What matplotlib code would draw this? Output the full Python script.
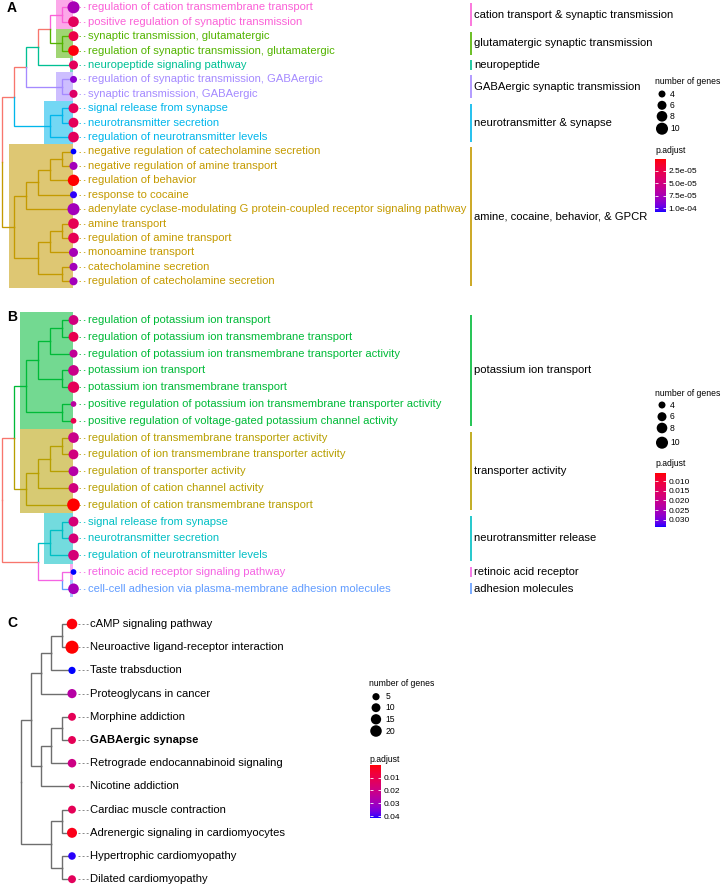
import numpy as np
import matplotlib
matplotlib.use("Agg")
import matplotlib.pyplot as plt
from matplotlib.cm import ScalarMappable
from matplotlib.colors import ListedColormap, Normalize
from matplotlib.patches import Rectangle

plt.rcParams["font.family"] = ["Liberation Sans", "DejaVu Sans"]

FIG_W, FIG_H = 722, 886

# ---------------- panel A: GO terms ----------------
A_TERMS = [
    "regulation of cation transmembrane transport",
    "positive regulation of synaptic transmission",
    "synaptic transmission, glutamatergic",
    "regulation of synaptic transmission, glutamatergic",
    "neuropeptide signaling pathway",
    "regulation of synaptic transmission, GABAergic",
    "synaptic transmission, GABAergic",
    "signal release from synapse",
    "neurotransmitter secretion",
    "regulation of neurotransmitter levels",
    "negative regulation of catecholamine secretion",
    "negative regulation of amine transport",
    "regulation of behavior",
    "response to cocaine",
    "adenylate cyclase-modulating G protein-coupled receptor signaling pathway",
    "amine transport",
    "regulation of amine transport",
    "monoamine transport",
    "catecholamine secretion",
    "regulation of catecholamine secretion",
]
A_GENES = [10, 8, 7, 8, 6, 4, 5, 7, 7, 8, 3, 5, 9, 4, 10, 8, 8, 6, 5, 5]
A_PADJ = [7.5e-5, 3.3e-5, 2.4e-5, 3.1e-6, 3.3e-5, 8.6e-5, 3.8e-5, 3.2e-5, 3.2e-5, 3.3e-5,
          1.0745e-4, 7.7e-5, 1.0e-6, 1.05e-4, 7.7e-5, 3.0e-5, 3.0e-5, 7.5e-5, 7.7e-5, 7.7e-5]
A_TREE = ((((((0, 1), (2, 3)), 4), (5, 6)), ((7, 8), 9)),
          (((((10, 11), 12), 13), 14), (((15, 16), 17), (18, 19))))
A_CLUSTER_NAMES = [
    "cation transport & synaptic transmission",
    "glutamatergic synaptic transmission",
    "neuropeptide",
    "GABAergic synaptic transmission",
    "neurotransmitter & synapse",
    "amine, cocaine, behavior, & GPCR",
]
A_CLUSTER_ROWS = [[0, 1], [2, 3], [4], [5, 6], [7, 8, 9], list(range(10, 20))]
A_CLUSTER_COLORS = ["#FB61D7", "#53B400", "#00C094", "#A58AFF", "#00B6EB", "#C49A00"]
A_EDGE_OVERRIDE = {(0, 1, 2, 3, 4): "#00C094"}
A_SIZE_BREAKS = [4, 6, 8, 10]
A_PADJ_TICKS = [2.5e-5, 5.0e-5, 7.5e-5, 1.0e-4]

# ---------------- panel B: GO terms ----------------
B_TERMS = [
    "regulation of potassium ion transport",
    "regulation of potassium ion transmembrane transport",
    "regulation of potassium ion transmembrane transporter activity",
    "potassium ion transport",
    "potassium ion transmembrane transport",
    "positive regulation of potassium ion transmembrane transporter activity",
    "positive regulation of voltage-gated potassium channel activity",
    "regulation of transmembrane transporter activity",
    "regulation of ion transmembrane transporter activity",
    "regulation of transporter activity",
    "regulation of cation channel activity",
    "regulation of cation transmembrane transport",
    "signal release from synapse",
    "neurotransmitter secretion",
    "regulation of neurotransmitter levels",
    "retinoic acid receptor signaling pathway",
    "cell-cell adhesion via plasma-membrane adhesion molecules",
]
B_GENES = [7, 7, 5, 8, 9, 3, 3, 8, 7, 7, 7, 11, 7, 7, 8, 3, 8]
B_PADJ = [0.0184, 0.0128, 0.0212, 0.0198, 0.0137, 0.0226, 0.0128, 0.0198, 0.0184, 0.0232,
          0.0184, 0.00587, 0.0176, 0.0176, 0.0176, 0.0337, 0.0254]
B_TREE = (((((((0, 1), 2), (3, 4)), (5, 6)), ((((7, 8), 9), 10), 11)),
           (((12, 13), 14), (15, 16))))
B_CLUSTER_NAMES = [
    "potassium ion transport",
    "transporter activity",
    "neurotransmitter release",
    "retinoic acid receptor",
    "adhesion molecules",
]
B_CLUSTER_ROWS = [list(range(0, 7)), list(range(7, 12)), [12, 13, 14], [15], [16]]
B_CLUSTER_COLORS = ["#00BA38", "#B79F00", "#00BFC4", "#F564E3", "#619CFF"]
B_EDGE_OVERRIDE = {(15, 16): "#F564E3"}
B_SIZE_BREAKS = [4, 6, 8, 10]
B_PADJ_TICKS = [0.010, 0.015, 0.020, 0.025, 0.030]

# ---------------- panel C: KEGG pathways ----------------
C_TERMS = [
    "cAMP signaling pathway",
    "Neuroactive ligand-receptor interaction",
    "Taste trabsduction",
    "Proteoglycans in cancer",
    "Morphine addiction",
    "GABAergic synapse",
    "Retrograde endocannabinoid signaling",
    "Nicotine addiction",
    "Cardiac muscle contraction",
    "Adrenergic signaling in cardiomyocytes",
    "Hypertrophic cardiomyopathy",
    "Dilated cardiomyopathy",
]
C_GENES = [16, 27, 5, 11, 7, 7, 9, 2, 7, 14, 6, 7]
C_PADJ = [0.0010, 0.0002, 0.0415, 0.0258, 0.0118, 0.0118, 0.0200, 0.0138, 0.0118, 0.0023,
          0.0407, 0.0126]
C_TREE = (((((0, 1), 2), 3), (((4, 5), 6), 7)), ((8, 9), (10, 11)))
C_BOLD = ["GABAergic synapse"]
C_SIZE_BREAKS = [5, 10, 15, 20]
C_PADJ_TICKS = [0.01, 0.02, 0.03, 0.04]

ROOT_COLOR = "#F8766D"
TREE_GREY = "#6E6E6E"
LABEL_FS = 8.1
C_LABEL_FS = 8.1
LEGEND_FS = 6.2


def srgb_to_lab(rgb):
    c = np.asarray(rgb, dtype=float)
    lin = np.where(c <= 0.04045, c / 12.92, ((c + 0.055) / 1.055) ** 2.4)
    m = np.array([[0.4124, 0.3576, 0.1805], [0.2126, 0.7152, 0.0722], [0.0193, 0.1192, 0.9505]])
    xyz = m @ lin / np.array([0.95047, 1.0, 1.08883])
    f = np.where(xyz > 0.008856, np.cbrt(xyz), 7.787 * xyz + 16 / 116)
    return np.array([116 * f[1] - 16, 500 * (f[0] - f[1]), 200 * (f[1] - f[2])])


def lab_to_srgb(lab):
    L, a, b = lab[:, 0], lab[:, 1], lab[:, 2]
    fy = (L + 16) / 116
    f = np.stack([fy + a / 500, fy, fy - b / 200], axis=1)
    xyz = np.where(f ** 3 > 0.008856, f ** 3, (f - 16 / 116) / 7.787)
    xyz = xyz * np.array([0.95047, 1.0, 1.08883])
    minv = np.array([[3.2406, -1.5372, -0.4986], [-0.9689, 1.8758, 0.0415], [0.0557, -0.2040, 1.0570]])
    lin = np.clip(xyz @ minv.T, 0, 1)
    rgb = np.where(lin <= 0.0031308, 12.92 * lin, 1.055 * lin ** (1 / 2.4) - 0.055)
    return np.clip(rgb, 0, 1)


def red_blue_cmap(n=256):
    lo, hi = srgb_to_lab([1, 0, 0]), srgb_to_lab([0, 0, 1])
    t = np.linspace(0, 1, n)[:, None]
    return ListedColormap(lab_to_srgb(lo + (hi - lo) * t))


CMAP = red_blue_cmap()


def build_layout(tree, tip_x, step):
    nodes = []

    def rec(n):
        if isinstance(n, int):
            nodes.append(dict(tips=(n,), x=tip_x, y=float(n), h=0, kids=[]))
            return len(nodes) - 1
        kids = [rec(c) for c in n]
        h = 1 + max(nodes[k]["h"] for k in kids)
        tips = tuple(t for k in kids for t in nodes[k]["tips"])
        y = float(np.mean([nodes[k]["y"] for k in kids]))
        nodes.append(dict(tips=tips, x=tip_x - h * step, y=y, h=h, kids=kids))
        return len(nodes) - 1

    rec(tree)
    return nodes


def panel_axes(fig, top_px, bot_px, row0_px, dy_px):
    ax = fig.add_axes([0, 1 - bot_px / FIG_H, 1, (bot_px - top_px) / FIG_H])
    ax.set_xlim(0, FIG_W)
    ax.set_ylim((bot_px - row0_px) / dy_px, (top_px - row0_px) / dy_px)
    ax.axis("off")
    return ax


def draw_tree(ax, nodes, edge_color, lw):
    for p in nodes:
        for k in p["kids"]:
            c = nodes[k]
            col = edge_color(c["tips"])
            z = 2 if col in (ROOT_COLOR, TREE_GREY) else 3
            ax.plot([p["x"], p["x"], c["x"]], [p["y"], c["y"], c["y"]], color=col, lw=lw,
                    solid_joinstyle="miter", solid_capstyle="projecting", zorder=z)


def go_panel(fig, ov, terms, genes, padj, tree, names, rows, colors, override,
             top_px, bot_px, row0_px, dy_px, size_fn, breaks, ticks, tickfmt,
             leg_y, cbar_box, letter, letter_y):
    ax = panel_axes(fig, top_px, bot_px, row0_px, dy_px)
    tip_x, step = 73.5, 11.9
    nodes = build_layout(tree, tip_x, step)
    row_cluster = {}
    for ci, rr in enumerate(rows):
        for r in rr:
            row_cluster[r] = ci

    def edge_color(tips):
        cl = {row_cluster[t] for t in tips}
        if len(cl) == 1:
            return colors[cl.pop()]
        return override.get(tuple(sorted(tips)), ROOT_COLOR)

    draw_tree(ax, nodes, edge_color, 0.95)

    # clade highlights
    for ci, rr in enumerate(rows):
        node = next(n for n in nodes if tuple(sorted(n["tips"])) == tuple(rr))
        left = tip_x - 4 if len(rr) == 1 else node["x"] - 5.5
        ax.add_patch(Rectangle((left, min(rr) - 0.5), tip_x - 0.5 - left, len(rr),
                               facecolor=colors[ci], alpha=0.55, lw=0, zorder=1))

    # dots, connectors and labels
    n = len(terms)
    norm = Normalize(min(padj), max(padj))
    d_px = np.array([size_fn(g) for g in genes])
    ax.scatter([tip_x] * n, range(n), s=(d_px * 0.72) ** 2, c=padj, cmap=CMAP, norm=norm,
               linewidths=0, zorder=5)
    for i, term in enumerate(terms):
        col = colors[row_cluster[i]]
        ax.plot([tip_x + 5, tip_x + 13.5], [i, i], color=col, lw=0.7, ls=(0, (1.5, 3)), alpha=0.8, zorder=4)
        ax.text(tip_x + 14.5, i, term, color=col, fontsize=LABEL_FS, va="center", ha="left")

    # cluster bars
    for ci, rr in enumerate(rows):
        ax.plot([471, 471], [min(rr) - 0.32, max(rr) + 0.32], color=colors[ci], lw=1.2,
                solid_capstyle="butt")
        ax.text(474, (min(rr) + max(rr)) / 2, names[ci], fontsize=LABEL_FS, va="center", ha="left")

    draw_legend(fig, ov, size_fn, breaks, 655, 662, 670, leg_y, norm, ticks, tickfmt, cbar_box)
    ov.text(7, letter_y, letter, fontsize=10, fontweight="bold", va="center", ha="left")


def draw_legend(fig, ov, size_fn, breaks, title_x, dot_x, lab_x, ys, norm, ticks, tickfmt, cbar_box):
    title_y, dot_ys, padj_y = ys
    ov.text(title_x, title_y, "number of genes", fontsize=LEGEND_FS, va="center", ha="left")
    d_px = np.array([size_fn(b) for b in breaks])
    ov.scatter([dot_x] * len(breaks), dot_ys, s=(d_px * 0.72) ** 2, color="black", linewidths=0)
    for b, y in zip(breaks, dot_ys):
        ov.text(lab_x, y, str(b), fontsize=LEGEND_FS, va="center", ha="left")
    ov.text(title_x, padj_y, "p.adjust", fontsize=LEGEND_FS, va="center", ha="left")
    x0, y0, w, h = cbar_box
    cax = fig.add_axes([x0 / FIG_W, 1 - (y0 + h) / FIG_H, w / FIG_W, h / FIG_H])
    cb = fig.colorbar(ScalarMappable(norm=norm, cmap=CMAP), cax=cax)
    cb.outline.set_visible(False)
    cax.invert_yaxis()
    cb.set_ticks(ticks)
    cb.set_ticklabels([tickfmt % t for t in ticks])
    cax.yaxis.set_ticks_position("both")
    cax.tick_params(axis="y", direction="in", length=2, width=0.6, color="white",
                    labelsize=LEGEND_FS - 0.2, pad=2, labelleft=False, labelright=True)


def ab_size(v):
    return np.sqrt(16.0 * v - 15.0)


def c_size(v):
    return np.sqrt(5.4 * v + 25.0)


fig = plt.figure(figsize=(FIG_W / 100, FIG_H / 100), dpi=100)
ov = fig.add_axes([0, 0, 1, 1], zorder=10)
ov.set_xlim(0, FIG_W)
ov.set_ylim(FIG_H, 0)
ov.axis("off")
ov.patch.set_alpha(0)

go_panel(fig, ov, A_TERMS, A_GENES, A_PADJ, A_TREE, A_CLUSTER_NAMES, A_CLUSTER_ROWS,
         A_CLUSTER_COLORS, A_EDGE_OVERRIDE, 0, 300, 7.3, 14.42, ab_size, A_SIZE_BREAKS,
         A_PADJ_TICKS, "%.1e", (81, [94, 105.3, 116.3, 128.7], 150.7), (655, 159, 10.5, 53),
         "A", 8)

go_panel(fig, ov, B_TERMS, B_GENES, B_PADJ, B_TREE, B_CLUSTER_NAMES, B_CLUSTER_ROWS,
         B_CLUSTER_COLORS, B_EDGE_OVERRIDE, 300, 605, 320, 16.8, ab_size, B_SIZE_BREAKS,
         B_PADJ_TICKS, "%.3f", (393, [405, 416.7, 428, 442.7], 463.3), (655, 473, 11, 54),
         "B", 317)

# panel C: KEGG tree
axc = panel_axes(fig, 605, 886, 624, 23.2)
c_tip, c_step = 72.0, 10.3
c_nodes = build_layout(C_TREE, c_tip, c_step)
draw_tree(axc, c_nodes, lambda tips: TREE_GREY, 1.0)
c_norm = Normalize(min(C_PADJ), max(C_PADJ))
c_d = np.array([c_size(g) for g in C_GENES])
axc.scatter([c_tip] * len(C_TERMS), range(len(C_TERMS)), s=(c_d * 0.72) ** 2, c=C_PADJ,
            cmap=CMAP, norm=c_norm, linewidths=0, zorder=5)
for i, term in enumerate(C_TERMS):
    axc.plot([c_tip + 6, c_tip + 17], [i, i], color="#888888", lw=0.7, ls=(0, (2, 2.2)), zorder=4)
    axc.text(c_tip + 18, i, term, fontsize=C_LABEL_FS, va="center", ha="left",
             fontweight="bold" if term in C_BOLD else "normal")
draw_legend(fig, ov, c_size, C_SIZE_BREAKS, 369, 376, 385.5,
            (684, [696.7, 707.7, 719.3, 731], 760), c_norm, C_PADJ_TICKS, "%.2f",
            (370, 765, 11, 53))
ov.text(7, 623, "C", fontsize=10, fontweight="bold", va="center", ha="left")

fig.savefig("out.png", dpi=100)
